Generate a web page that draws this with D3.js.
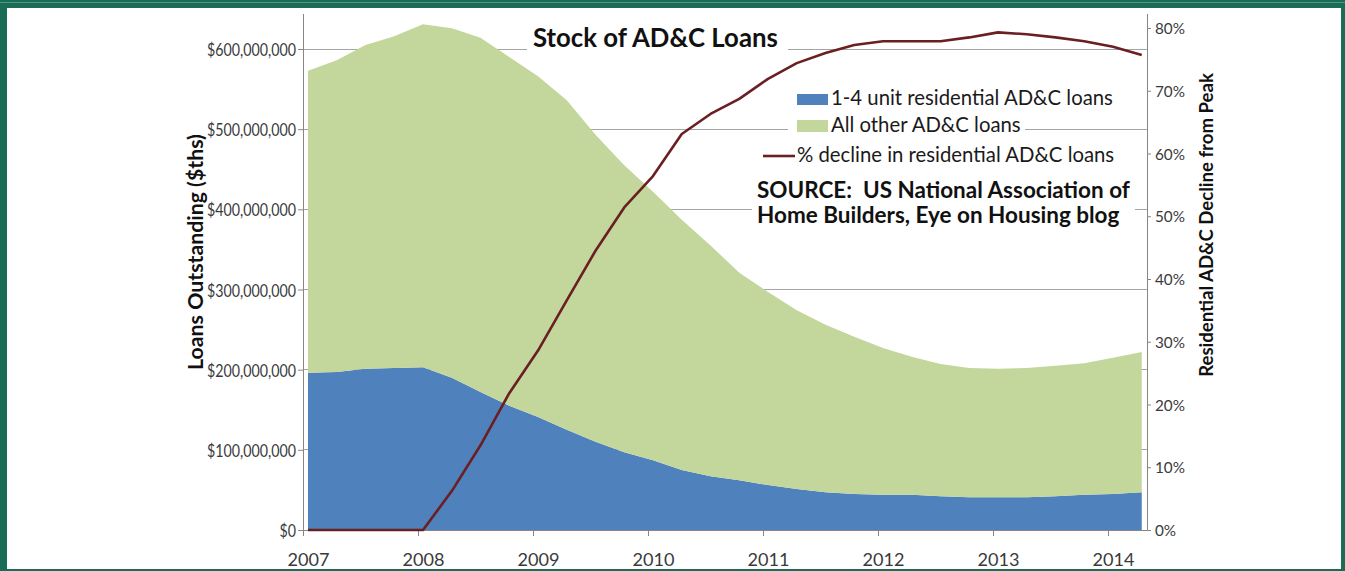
<!DOCTYPE html>
<html>
<head>
<meta charset="utf-8">
<script src="https://cdn.jsdelivr.net/npm/d3@7"></script>
<style>
  body { margin: 0; background: #fff; }
  svg { display: block; }
  text { white-space: pre; }
</style>
</head>
<body>
<script>
// quarterly data, $ millions (axis labels show $ths as in the source)
const quarters = ["2007Q1","2007Q2","2007Q3","2007Q4","2008Q1","2008Q2","2008Q3","2008Q4",
  "2009Q1","2009Q2","2009Q3","2009Q4","2010Q1","2010Q2","2010Q3","2010Q4",
  "2011Q1","2011Q2","2011Q3","2011Q4","2012Q1","2012Q2","2012Q3","2012Q4",
  "2013Q1","2013Q2","2013Q3","2013Q4","2014Q1","2014Q2"];
const residential = [196,197,201,202,203,190,172,155,141,125,110,97,87,75,67,62,
  56,51,47,45,44,44,42,41,41,41,42,44,45,47];
const allOther = [377,389,404,414,428,436,442,435,425,411,383,358,335,312,288,259,
  241,223,209,196,183,172,165,161,160,161,163,164,170,175];
const declinePct = [0,0,0,0,0,6.2,13.5,21.8,28.6,36.6,44.5,51.4,56.4,63.1,66.3,68.7,
  71.9,74.4,76,77.3,77.9,77.9,77.9,78.5,79.3,79,78.5,77.9,77,75.7];

const yearTicks = [2007,2008,2009,2010,2011,2012,2013,2014];
const leftTicks = [0,100,200,300,400,500,600];
const rightTicks = [0,10,20,30,40,50,60,70,80];

const legendItems = ["1-4 unit residential AD&C loans", "All other AD&C loans", "% decline in residential AD&C loans"];
const sourceLines = ["SOURCE:  US National Association of", "Home Builders, Eye on Housing blog"];

const width = 1345;
const height = 571;
const FONT = "Lato, 'Open Sans', sans-serif";

const blue = "#4f81bd";
const green = "#c3d69b";
const maroon = "#6a1f22";
const teal = "#1b6c57";

// plot frame
const plotL = 303, plotR = 1147, plotT = 14, plotB = 530;
const qOffset = 0.0435; // data points sit a bit after the year tick

const qDate = q => +q.slice(0, 4) + (+q.slice(5) - 1) / 4 + qOffset;

const x = d3.scaleLinear().domain([2007, 2014]).range([plotL, 1108]);
const yL = d3.scaleLinear().domain([0, 600]).range([plotB, 49]);
const yR = d3.scaleLinear().domain([0, 80]).range([plotB, 28]);

const rows = quarters.map((q, i) => ({
  t: qDate(q), res: residential[i], other: allOther[i], pct: declinePct[i]
}));
const stacked = d3.stack().keys(["res", "other"])(rows);

const svg = d3.select("body").append("svg")
  .attr("width", width).attr("height", height)
  .attr("font-family", FONT);

// frame
svg.append("rect").attr("width", width).attr("height", height).attr("fill", teal);
svg.append("line").attr("x1", 0).attr("x2", width).attr("y1", 2.5).attr("y2", 2.5)
  .attr("stroke", "#4f9683").attr("stroke-width", 1);
svg.append("rect").attr("x", 7).attr("y", 8).attr("width", 1334).attr("height", 561).attr("fill", "#fff");

function fitSize(node, target, base) {
  const len = node.getComputedTextLength();
  return base * target / len;
}

// gridlines (behind everything)
svg.append("g").selectAll("line").data(leftTicks.slice(1)).join("line")
  .attr("x1", plotL).attr("x2", plotR)
  .attr("y1", d => yL(d)).attr("y2", d => yL(d))
  .attr("stroke", "#a5a5a5").attr("stroke-width", 1).attr("shape-rendering", "crispEdges");

// stacked areas
const area = d3.area().x(d => x(d.data.t)).y0(d => yL(d[0])).y1(d => yL(d[1]));
svg.append("g").selectAll("path").data(stacked).join("path")
  .attr("fill", (d, i) => i === 0 ? blue : green)
  .attr("d", area);

// axes
const axisColor = "#868686";
svg.append("line").attr("x1", plotL).attr("x2", plotL).attr("y1", plotT).attr("y2", plotB)
  .attr("stroke", axisColor).attr("shape-rendering", "crispEdges");
svg.append("line").attr("x1", plotR).attr("x2", plotR).attr("y1", plotT).attr("y2", plotB)
  .attr("stroke", axisColor).attr("shape-rendering", "crispEdges");
svg.append("line").attr("x1", plotL).attr("x2", plotR).attr("y1", plotB).attr("y2", plotB)
  .attr("stroke", axisColor).attr("shape-rendering", "crispEdges");

const gL = svg.append("g").attr("transform", `translate(${plotL},0)`)
  .call(d3.axisLeft(yL).tickValues(leftTicks).tickSize(5).tickPadding(2)
    .tickFormat(d => "$" + d3.format(",")(d * 1e6)));
const gR = svg.append("g").attr("transform", `translate(${plotR},0)`)
  .call(d3.axisRight(yR).tickValues(rightTicks).tickSize(4).tickPadding(4)
    .tickFormat(d => d + "%"));
const gB = svg.append("g").attr("transform", `translate(0,${plotB})`)
  .call(d3.axisBottom(x).tickValues(yearTicks).tickSize(6).tickFormat(""));
const gBL = svg.append("g").attr("transform", `translate(0,${plotB})`)
  .call(d3.axisBottom(x).tickValues(yearTicks.map(d => d + qOffset)).tickSize(0).tickPadding(0)
    .tickFormat(d => Math.floor(d)));

[gL, gR, gB, gBL].forEach(g => {
  g.select(".domain").remove();
  g.selectAll(".tick line").attr("stroke", axisColor);
  g.selectAll("text").attr("fill", "#3a3a3a").attr("font-family", FONT);
});

// left labels: Calibri-like narrow figures -> squeeze Lato horizontally
gL.selectAll("text").attr("font-size", 16.5).attr("dy", "0.4em");
const wideL = gL.selectAll("text").nodes()[6].getComputedTextLength();
const squeeze = 89 / wideL;
gL.selectAll("text").each(function () {
  const w = this.getComputedTextLength();
  d3.select(this).attr("textLength", w * squeeze).attr("lengthAdjust", "spacingAndGlyphs");
});

gR.selectAll("text").attr("font-size", 20);
const rSize = fitSize(gR.selectAll("text").nodes()[8], 30, 20);
gR.selectAll("text").attr("font-size", rSize).attr("dy", "0.36em");
gBL.selectAll("text").attr("font-size", 20);
const bSize = fitSize(gBL.selectAll("text").nodes()[0], 42, 20);
gBL.selectAll("text").attr("font-size", bSize).attr("dy", 0).attr("y", 36);

// decline line
const line = d3.line().x(d => x(d.t)).y(d => yR(d.pct));
svg.append("path").datum(rows)
  .attr("fill", "none").attr("stroke", maroon).attr("stroke-width", 2.6)
  .attr("stroke-linejoin", "round")
  .attr("d", line);

// axis titles
const tL = svg.append("text").text("Loans Outstanding ($ths)")
  .attr("font-weight", "bold").attr("font-size", 20).attr("fill", "#111")
  .attr("text-anchor", "middle")
  .attr("transform", "translate(203,252) rotate(-90)");
tL.attr("font-size", fitSize(tL.node(), 236, 20));
const tR = svg.append("text").text("Residential AD&C Decline from Peak")
  .attr("font-weight", "bold").attr("font-size", 20).attr("fill", "#111")
  .attr("text-anchor", "middle")
  .attr("transform", "translate(1213,225) rotate(-90)");
tR.attr("font-size", fitSize(tR.node(), 304, 20));

// title
svg.append("rect").attr("x", 527).attr("y", 26).attr("width", 261).attr("height", 30).attr("fill", "#fff");
const title = svg.append("text").text("Stock of AD&C Loans")
  .attr("x", 533).attr("y", 47)
  .attr("font-weight", "bold").attr("font-size", 24).attr("fill", "#111");
title.attr("font-size", fitSize(title.node(), 245, 24));

// legend
const legX = 831;
const legY = [105, 132, 162];
const legBox = [[793, 88, 325, 24], [788, 114, 237, 25], [758, 143, 365, 25]];
svg.append("g").selectAll("rect").data(legBox).join("rect")
  .attr("x", d => d[0]).attr("y", d => d[1]).attr("width", d => d[2]).attr("height", d => d[3])
  .attr("fill", "#fff");
svg.append("rect").attr("x", 797).attr("y", 94).attr("width", 31).attr("height", 11).attr("fill", blue);
svg.append("rect").attr("x", 797).attr("y", 120).attr("width", 31).attr("height", 12).attr("fill", green);
svg.append("line").attr("x1", 763).attr("x2", 795).attr("y1", 156).attr("y2", 156)
  .attr("stroke", maroon).attr("stroke-width", 2.6);

const legText = svg.append("g").attr("fill", "#1a1a1a").selectAll("text").data(legendItems).join("text")
  .text(d => d)
  .attr("x", (d, i) => i === 2 ? 797 : legX)
  .attr("y", (d, i) => legY[i])
  .attr("font-size", 20);
const legSize = fitSize(legText.nodes()[0], 282, 20);
legText.attr("font-size", legSize);

// source note, one text block with two lines
svg.append("rect").attr("x", 752).attr("y", 175).attr("width", 383).attr("height", 53).attr("fill", "#fff");
const src = svg.append("text").attr("fill", "#111")
  .attr("font-weight", "bold").attr("font-size", 20);
src.selectAll("tspan").data(sourceLines).join("tspan")
  .text(d => d)
  .attr("x", 757)
  .attr("y", (d, i) => [198, 223][i]);
const srcSize = fitSize(src.select("tspan").node(), 373, 20);
src.attr("font-size", srcSize);
</script>
</body>
</html>
